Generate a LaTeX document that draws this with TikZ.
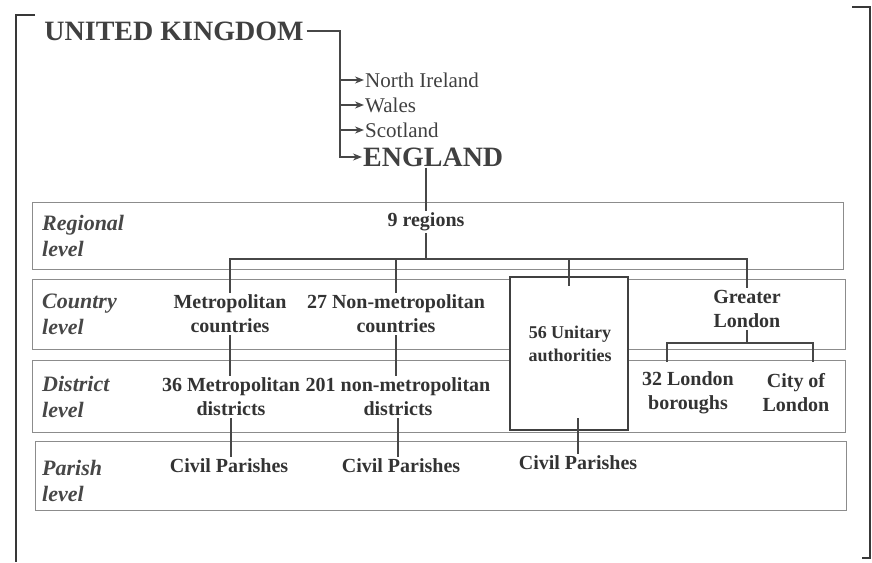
\documentclass[tikz,border=0pt]{standalone}
\usepackage{fontspec}
\setmainfont{Liberation Serif}
\usetikzlibrary{arrows.meta}
\begin{document}
\begin{tikzpicture}[
    x=1pt, y=-1pt,
    lvl/.style={draw=black!45, line width=1pt},
    conn/.style={draw=black!72, line width=2.6pt},
    thinconn/.style={draw=black!72, line width=1.9pt},
    tip/.style={-{Stealth[length=9pt,width=7pt]}},
    txt/.style={font=\fontsize{20}{24}\selectfont\bfseries, align=center, text=black!80, inner sep=2pt},
    lab/.style={font=\fontsize{22}{26}\selectfont\bfseries\itshape, align=left, text=black!72, anchor=west, inner sep=0pt},
    big/.style={font=\fontsize{28}{32}\selectfont\bfseries, text=black!75, inner sep=3pt},
    sub/.style={font=\fontsize{21}{24}\selectfont, text=black!75, anchor=west, inner sep=1pt},
    ubox/.style={draw=black!75, line width=2.6pt, fill=white, minimum width=118pt, minimum height=153pt}]
  \useasboundingbox (0,0) rectangle (872,562);
  % page brackets
  \draw[black!78, line width=2.5pt] (35,15) -- (16,15) -- (16,562);
  \draw[black!78, line width=2.5pt] (852,7) -- (870,7) -- (870,558) -- (862,558);
  % the four level panels
  \draw[lvl] (32,202) rectangle (843,269);
  \draw[lvl] (32,279) rectangle (845,349);
  \draw[lvl] (32,360) rectangle (845,432);
  \draw[lvl] (35,441) rectangle (846,510);
  \node[ubox] (ubox) at (569,353.5) {};
  \node[lab] (lreg) at (42,236) {Regional\\level};
  \node[lab] (lcnt) at (42,314) {Country\\level};
  \node[lab] (ldis) at (42,397) {District\\level};
  \node[lab] (lpar) at (42,481) {Parish\\level};
  % UK and its parts
  \node[big] (uk) at (174,31) {UNITED KINGDOM};
  \node[sub] (ni)  at (364,80)  {North Ireland};
  \node[sub] (wal) at (364,105) {Wales};
  \node[sub] (sco) at (364,130) {Scotland};
  \node[big, anchor=west, inner sep=1pt] (eng) at (362,157) {ENGLAND};
  \coordinate (fork) at (340,31);
  \draw[thinconn, tip] (uk.east) -- (fork) |- (eng.west);
  \foreach \c in {ni,wal,sco}
    \draw[thinconn, tip] (fork |- \c.west) -- (\c.west);
  % units
  \node[txt] (reg)   at (426,222) {9 regions};
  \node[txt] (metc)  at (230,314) {Metropolitan\\countries};
  \node[txt] (nmetc) at (396,314) {27 Non-metropolitan\\countries};
  \node[txt, font=\fontsize{18}{23}\selectfont\bfseries] (unit) at (570,344) {56 Unitary\\authorities};
  \node[txt] (gl)    at (747,309) {Greater\\London};
  \node[txt] (metd)  at (231,397) {36 Metropolitan\\districts};
  \node[txt] (nmetd) at (398,397) {201 non-metropolitan\\districts};
  \node[txt] (lb)    at (688,393) {32 London\\boroughs};
  \node[txt] (col)   at (796,393) {City of\\London};
  \node[txt] (cp1)   at (229,466) {Civil Parishes};
  \node[txt] (cp2)   at (401,466) {Civil Parishes};
  \node[txt] (cp3)   at (578,463) {Civil Parishes};
  % links between the levels
  \coordinate (bus) at (426,259);
  \draw[conn] (reg.north |- eng.south) -- (reg.north);
  \draw[conn] (reg.south) -- (bus);
  \draw[conn] (metc.north) |- (bus) -| (gl.north);
  \draw[conn] (nmetc.north |- bus) -- (nmetc.north);
  \draw[conn] (ubox.north |- bus) -- ([yshift=-10pt]ubox.north);
  \coordinate (glbus) at (747,343);
  \coordinate (lbtop) at (667,362);
  \coordinate (coltop) at (813,362);
  \draw[conn] (gl.south) -- (glbus);
  \draw[conn] (lbtop) |- (glbus) -| (coltop);
  \draw[conn] (metc.south) -- (metc.south |- metd.north);
  \draw[conn] (nmetc.south) -- (nmetc.south |- nmetd.north);
  \draw[conn] (metd.south) -- (metd.south |- cp1.north);
  \draw[conn] (nmetd.south) -- (nmetd.south |- cp2.north);
  \draw[conn] ([yshift=13pt]ubox.south -| cp3.north) -- (cp3.north);
\end{tikzpicture}
\end{document}
